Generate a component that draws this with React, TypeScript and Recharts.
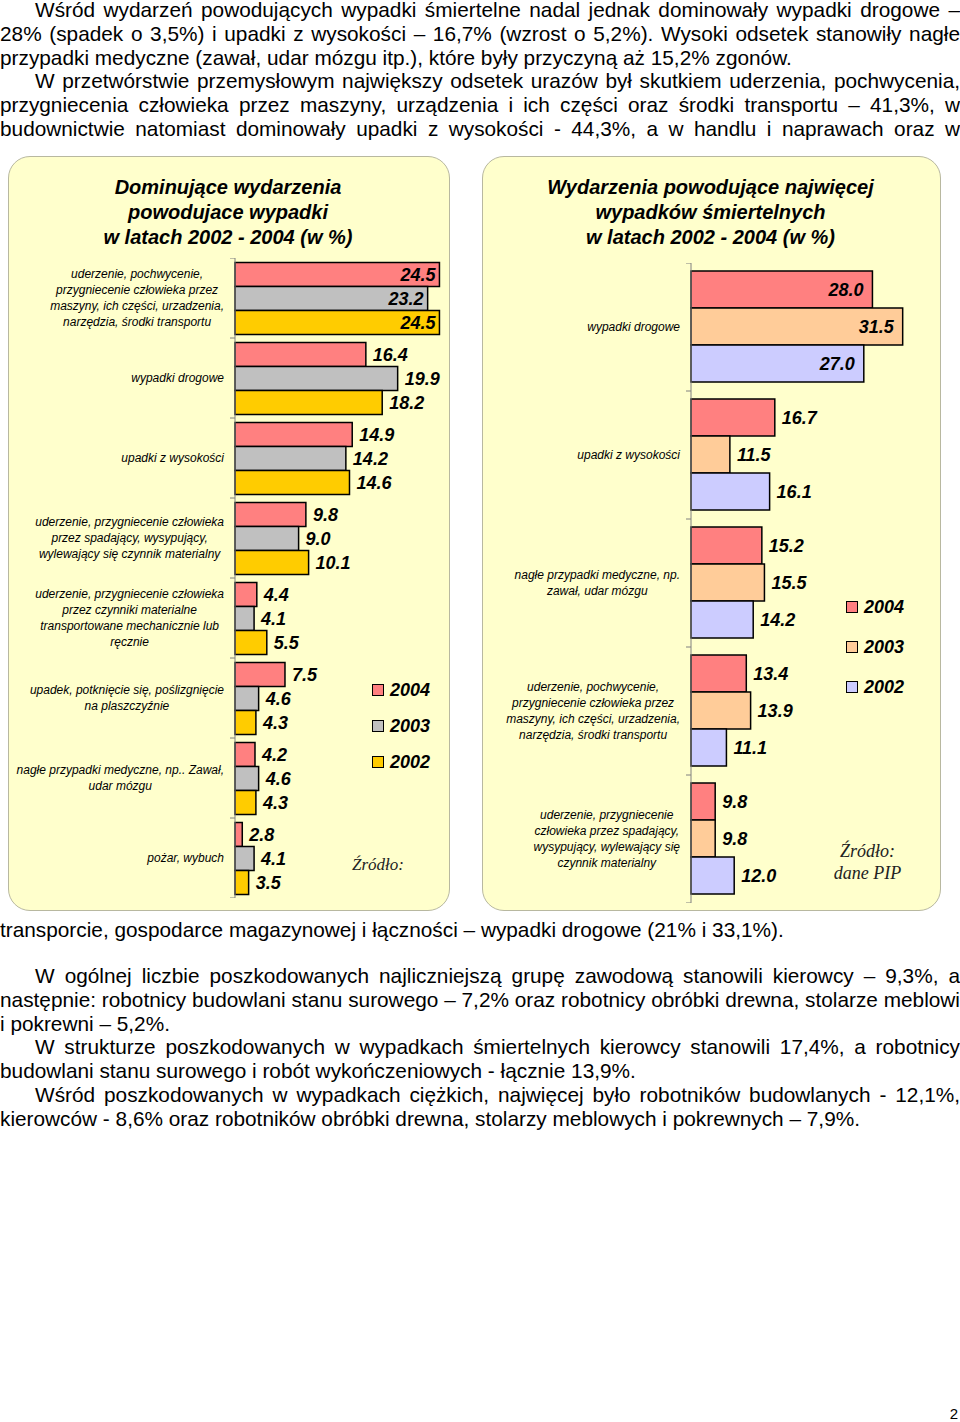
import React from "react";
import { Bar, BarChart, XAxis, YAxis, Legend, LabelList } from "recharts";

// lewy wykres: dominujące wydarzenia
const leftCategories = [
  "uderzenie, pochwycenie,\nprzygniecenie człowieka przez\nmaszyny, ich części, urzadzenia,\nnarzędzia, środki transportu",
  "wypadki drogowe",
  "upadki z wysokości",
  "uderzenie, przygniecenie człowieka\nprzez spadający, wysypujący,\nwylewający się czynnik materialny",
  "uderzenie, przygniecenie człowieka\nprzez czynniki materialne\ntransportowane mechanicznie lub\nręcznie",
  "upadek, potknięcie się, poślizgnięcie\nna plaszczyźnie",
  "nagłe przypadki medyczne, np.. Zawał,\nudar mózgu",
  "pożar, wybuch",
];
const left2004 = [24.5, 16.4, 14.9, 9.8, 4.4, 7.5, 4.2, 2.8];
const left2003 = [23.2, 19.9, 14.2, 9.0, 4.1, 4.6, 4.6, 4.1];
const left2002 = [24.5, 18.2, 14.6, 10.1, 5.5, 4.3, 4.3, 3.5];

// prawy wykres: wypadki śmiertelne
const rightCategories = [
  "wypadki drogowe",
  "upadki z wysokości",
  "nagłe przypadki medyczne, np.\nzawał, udar mózgu",
  "uderzenie, pochwycenie,\nprzygniecenie człowieka przez\nmaszyny, ich części, urzadzenia,\nnarzędzia, środki transportu",
  "uderzenie, przygniecenie\nczłowieka przez spadający,\nwysypujący, wylewający się\nczynnik materialny",
];
const right2004 = [28.0, 16.7, 15.2, 13.4, 9.8];
const right2003 = [31.5, 11.5, 15.5, 13.9, 9.8];
const right2002 = [27.0, 16.1, 14.2, 11.1, 12.0];

const years = ["2004", "2003", "2002"];
const leftColors = ["#FF8080", "#C0C0C0", "#FFCC00"];
const rightColors = ["#FF8080", "#FFCC99", "#CCCCFF"];

const leftData = leftCategories.map((cat, i) => ({ cat, y2004: left2004[i], y2003: left2003[i], y2002: left2002[i] }));
const rightData = rightCategories.map((cat, i) => ({ cat, y2004: right2004[i], y2003: right2003[i], y2002: right2002[i] }));

const SANS = '"Liberation Sans", Arial, sans-serif';
const SERIF = '"Liberation Serif", "Times New Roman", serif';

let measureCtx: CanvasRenderingContext2D | null = null;
function textWidth(s: string, font: string) {
  if (!measureCtx) measureCtx = document.createElement("canvas").getContext("2d");
  if (!measureCtx) return s.length * 6;
  measureCtx.font = font;
  return measureCtx.measureText(s).width;
}

function CategoryTick(props: any) {
  const { x, y, payload, index, band, count } = props;
  const lines = String(payload.value).split("\n");
  const w = Math.max(...lines.map((l) => textWidth(l, `italic 12px ${SANS}`)));
  const cx = x - 11 - w / 2;
  const lh = 16.3;
  const y0 = y - ((lines.length - 1) * lh) / 2 + 4;
  return (
    <g>
      <line x1={x - 5} x2={x} y1={y - band / 2} y2={y - band / 2} stroke="#808080" />
      {index === count - 1 && <line x1={x - 5} x2={x} y1={y + band / 2} y2={y + band / 2} stroke="#808080" />}
      <text x={cx} y={y0} textAnchor="middle" fontFamily={SANS} fontStyle="italic" fontSize={12} fill="#000">
        {lines.map((l, i) => (
          <tspan key={i} x={cx} y={y0 + i * lh}>{l}</tspan>
        ))}
      </text>
    </g>
  );
}

function makeValueLabel(limit: number, inset: number) {
  return (props: any) => {
    const { x, y, width, height, value } = props;
    const end = x + width;
    const inside = end + 47 > limit;
    return (
      <text
        x={inside ? end - inset : end + 7}
        y={y + height / 2 + 6.5}
        textAnchor={inside ? "end" : "start"}
        fontFamily={SANS}
        fontWeight="bold"
        fontStyle="italic"
        fontSize={18}
        fill="#000"
      >
        {Number(value).toFixed(1)}
      </text>
    );
  };
}

function makeLegend(rowH: number) {
  return (props: any) => {
    const items = years
      .map((yr) => (props.payload || []).find((p: any) => p.value === yr))
      .filter(Boolean);
    return (
      <div>
        {items.map((p: any) => (
          <div key={p.value} style={{ height: rowH, display: "flex", alignItems: "center" }}>
            <span style={{ width: 12, height: 12, boxSizing: "border-box", background: p.color, border: "1.5px solid #000", marginRight: 6 }} />
            <span style={{ font: `italic bold 18px ${SANS}`, color: "#000" }}>{p.value}</span>
          </div>
        ))}
      </div>
    );
  };
}

const panel: React.CSSProperties = {
  position: "absolute",
  background: "#FFFFCC",
  border: "1px solid #B8B8A0",
  borderRadius: 22,
  boxSizing: "border-box",
};

const titleStyle: React.CSSProperties = {
  position: "absolute",
  textAlign: "center",
  font: `italic bold 20px ${SANS}`,
  lineHeight: "25px",
  color: "#000",
};

const textBase: React.CSSProperties = {
  font: `20.8px ${SANS}`,
  lineHeight: "23.8px",
  color: "#000",
  height: 23.8,
};

function Line({ t, indent, last }: { t: string; indent?: boolean; last?: boolean }) {
  return (
    <div
      style={{
        ...textBase,
        paddingLeft: indent ? 35 : 0,
        textAlign: last ? "left" : "justify",
        textAlignLast: last ? "left" : "justify",
        whiteSpace: "nowrap",
      }}
    >
      {t}
    </div>
  );
}

export default function App() {
  const keys = ["y2004", "y2003", "y2002"];
  return (
    <div style={{ position: "absolute", left: 0, top: 0, width: 960, height: 1422, background: "#fff", overflow: "hidden" }}>
      <div style={{ position: "absolute", left: 0, top: -2, width: 960 }}>
        <Line indent t="Wśród wydarzeń powodujących wypadki śmiertelne nadal jednak dominowały wypadki drogowe –" />
        <Line t="28% (spadek o 3,5%) i upadki z wysokości – 16,7% (wzrost o 5,2%). Wysoki odsetek stanowiły nagłe" />
        <Line last t="przypadki medyczne (zawał, udar mózgu itp.), które były przyczyną aż 15,2% zgonów." />
        <Line indent t="W przetwórstwie przemysłowym największy odsetek urazów był skutkiem uderzenia, pochwycenia," />
        <Line t="przygniecenia człowieka przez maszyny, urządzenia i ich części oraz środki transportu – 41,3%, w" />
        <Line t="budownictwie natomiast dominowały upadki z wysokości - 44,3%, a w handlu i naprawach oraz w" />
      </div>

      {/* lewy panel */}
      <div style={{ ...panel, left: 8, top: 156, width: 442, height: 755 }} />
      <div style={{ ...titleStyle, left: 8, top: 175, width: 440 }}>
        Dominujące wydarzenia
        <br />
        powodujace wypadki
        <br />w latach 2002 - 2004 (w %)
      </div>
      <div style={{ position: "absolute", left: 8, top: 258 }}>
        <BarChart width={436} height={640} data={leftData} layout="vertical" barGap={0} barCategoryGap={4.5} margin={{ top: 0, right: 0, bottom: 0, left: 0 }}>
          <XAxis type="number" domain={[2, 25]} hide />
          <YAxis
            type="category"
            dataKey="cat"
            width={227}
            tickSize={0}
            tickMargin={0}
            tickLine={false}
            axisLine={{ stroke: "#808080" }}
            interval={0}
            tick={(p: any) => <CategoryTick {...p} band={80} count={leftCategories.length} />}
          />
          <Legend
            layout="horizontal"
            align="center"
            verticalAlign="middle"
            content={makeLegend(36)}
            wrapperStyle={{ left: 364, top: 414, width: 80 }}
          />
          {keys.map((k, i) => (
            <Bar key={k} dataKey={k} name={years[i]} fill={leftColors[i]} stroke="#000" strokeWidth={1.5} isAnimationActive={false}>
              <LabelList dataKey={k} content={makeValueLabel(442, 4)} />
            </Bar>
          ))}
        </BarChart>
      </div>
      <div style={{ position: "absolute", left: 352, top: 855, font: `italic 17px ${SERIF}`, color: "#222" }}>Źródło:</div>

      {/* prawy panel */}
      <div style={{ ...panel, left: 482, top: 156, width: 459, height: 755 }} />
      <div style={{ ...titleStyle, left: 482, top: 175, width: 457 }}>
        Wydarzenia powodujące najwięcej
        <br />
        wypadków śmiertelnych
        <br />w latach 2002 - 2004 (w %)
      </div>
      <div style={{ position: "absolute", left: 482, top: 263 }}>
        <BarChart width={425} height={640} data={rightData} layout="vertical" barGap={0} barCategoryGap={8} margin={{ top: 0, right: 0, bottom: 0, left: 0 }}>
          <XAxis type="number" domain={[7, 32]} hide />
          <YAxis
            type="category"
            dataKey="cat"
            width={209}
            tickSize={0}
            tickMargin={0}
            tickLine={false}
            axisLine={{ stroke: "#808080" }}
            interval={0}
            tick={(p: any) => <CategoryTick {...p} band={128} count={rightCategories.length} />}
          />
          <Legend
            layout="horizontal"
            align="center"
            verticalAlign="middle"
            content={makeLegend(40)}
            wrapperStyle={{ left: 364, top: 324, width: 80 }}
          />
          {keys.map((k, i) => (
            <Bar key={k} dataKey={k} name={years[i]} fill={rightColors[i]} stroke="#000" strokeWidth={1.5} isAnimationActive={false}>
              <LabelList dataKey={k} content={makeValueLabel(423, 9)} />
            </Bar>
          ))}
        </BarChart>
      </div>
      <div style={{ position: "absolute", left: 820, top: 840, width: 95, textAlign: "center", font: `italic 18px ${SERIF}`, lineHeight: "22px", color: "#222" }}>
        Źródło:
        <br />
        dane PIP
      </div>

      <div style={{ position: "absolute", left: 0, top: 918, width: 960 }}>
        <Line last t="transporcie, gospodarce magazynowej i łączności – wypadki drogowe (21% i 33,1%)." />
      </div>
      <div style={{ position: "absolute", left: 0, top: 964, width: 960 }}>
        <Line indent t="W ogólnej liczbie poszkodowanych najliczniejszą grupę zawodową stanowili kierowcy – 9,3%, a" />
        <Line t="następnie: robotnicy budowlani stanu surowego – 7,2% oraz robotnicy obróbki drewna, stolarze meblowi" />
        <Line last t="i pokrewni – 5,2%." />
        <Line indent t="W strukturze poszkodowanych w wypadkach śmiertelnych kierowcy stanowili 17,4%, a robotnicy" />
        <Line last t="budowlani stanu surowego i robót wykończeniowych - łącznie 13,9%." />
        <Line indent t="Wśród poszkodowanych w wypadkach ciężkich, najwięcej było robotników budowlanych - 12,1%," />
        <Line last t="kierowców - 8,6% oraz robotników obróbki drewna, stolarzy meblowych i pokrewnych – 7,9%." />
      </div>
      <div style={{ position: "absolute", right: 2, top: 1405, font: `15px ${SANS}`, color: "#000" }}>2</div>
    </div>
  );
}
